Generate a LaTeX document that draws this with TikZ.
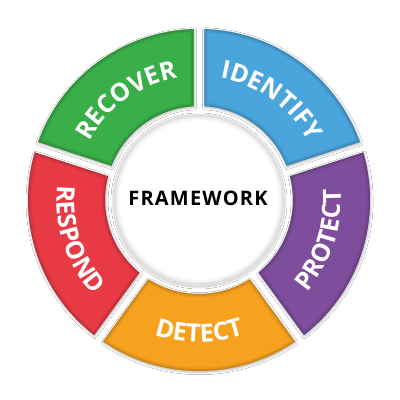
\documentclass[tikz,border=0pt]{standalone}
\usepackage{fontspec}
\setmainfont{Open Sans}
\usetikzlibrary{decorations.text,shadows.blur}
\definecolor{cgreen}{HTML}{3AAE49}
\definecolor{cblue}{HTML}{4AA5DC}
\definecolor{cpurple}{HTML}{7E4E9C}
\definecolor{corange}{HTML}{F6A21F}
\definecolor{cred}{HTML}{E83A45}
\def\Ro{171}
\def\Ri{94}
\def\gaph{5.5}
\newcommand\segfont{\color{white}\bfseries\fontsize{25pt}{26pt}\selectfont}
\newcommand\segp[1]{\path[#1] (\aiA:\Ri pt) -- (\aoA:\Ro pt) arc[start angle=\aoA, end angle=\aoB, radius=\Ro pt] -- (\aiB:\Ri pt) arc[start angle=\aiB, end angle=\aiA, radius=\Ri pt] -- cycle;}
\newcommand\mysegment[2]{%
  \pgfmathsetmacro\aoA{#1+asin(\gaph/\Ro)}%
  \pgfmathsetmacro\aoB{#1+72-asin(\gaph/\Ro)}%
  \pgfmathsetmacro\aiA{#1+asin(\gaph/\Ri)}%
  \pgfmathsetmacro\aiB{#1+72-asin(\gaph/\Ri)}%
  \segp{fill=#2, blur shadow={shadow blur steps=6, shadow xshift=0.6pt, shadow yshift=-1.2pt, shadow opacity=30, shadow blur radius=2.5pt}}
  \begin{scope}
    \segp{clip}
    \segp{draw=#2!70!black, line width=7pt, opacity=0.2}
    \segp{draw=#2!70!black, line width=4pt, opacity=0.25}
    \segp{draw=#2!65!black, line width=1.6pt, opacity=0.3}
  \end{scope}
}
\newcommand\textcw[2]{%
  \pgfmathsetmacro\ta{#1+36}\pgfmathsetmacro\tb{#1-36}%
  \path[decorate, decoration={text along path, text align=center, text={|\segfont|#2}}]
    (\ta:124pt) arc[start angle=\ta, end angle=\tb, radius=124pt];}
\newcommand\textccw[2]{%
  \pgfmathsetmacro\ta{#1-34}\pgfmathsetmacro\tb{#1+34}%
  \path[decorate, decoration={text along path, text align=center, text={|\segfont|#2}}]
    (\ta:142pt) arc[start angle=\ta, end angle=\tb, radius=142pt];}
\begin{document}
\begin{tikzpicture}
\useasboundingbox[fill=white] (0,0) rectangle (400pt,400pt);
\begin{scope}[shift={(199pt,200pt)}]
  \mysegment{90}{cgreen}
  \mysegment{18}{cblue}
  \mysegment{-54}{cpurple}
  \mysegment{-126}{corange}
  \mysegment{162}{cred}
  \textcw{126}{RECOVER}
  \textcw{54}{IDENTIFY}
  \textccw{-18}{PROTECT}
  \textccw{-90}{DETECT}
  \textccw{198}{RESPOND}
  % centre disc
  \fill[black!10, blur shadow={shadow blur steps=6, shadow xshift=0pt, shadow yshift=-1pt, shadow opacity=25, shadow blur radius=2pt}] (0,0) circle (86pt);
  \fill[black!13] (0,0) circle (85pt);
  \fill[black!8] (0,0) circle (83.5pt);
  \fill[black!4] (0,0) circle (82pt);
  \fill[black!1.5] (0,0) circle (80.5pt);
  \fill[white] (0,0) circle (79pt);
  \node[font=\bfseries\fontsize{20pt}{21pt}\selectfont, text=black] (fw) at (-1pt,2pt) {\addfontfeatures{LetterSpace=6}FRAMEWORK};
\end{scope}
\end{tikzpicture}
\end{document}
